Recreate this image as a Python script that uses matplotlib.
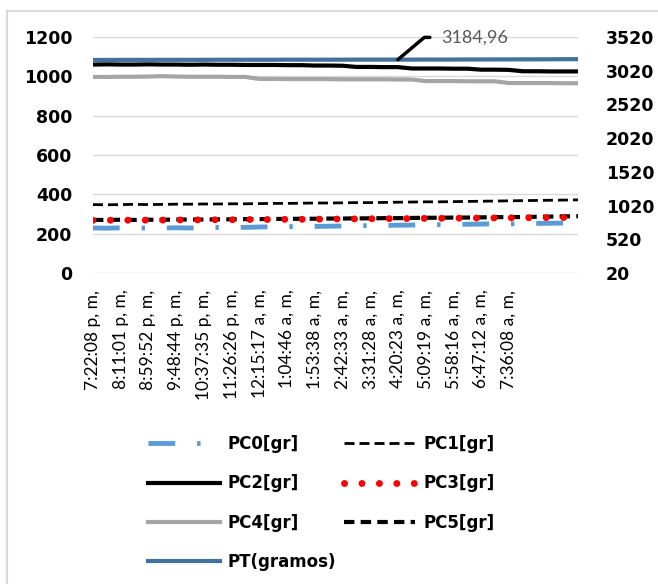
import matplotlib.pyplot as plt
import matplotlib.patches as mpatches
import numpy as np

plt.rcParams['font.family'] = ['Lato', 'DejaVu Sans']

# time labels (one every 2 samples)
time_labels = ['7:22:08 p, m,', '8:11:01 p, m,', '8:59:52 p, m,', '9:48:44 p, m,',
               '10:37:35 p, m,', '11:26:26 p, m,', '12:15:17 a, m,', '1:04:46 a, m,',
               '1:53:38 a, m,', '2:42:33 a, m,', '3:31:28 a, m,', '4:20:23 a, m,',
               '5:09:19 a, m,', '5:58:16 a, m,', '6:47:12 a, m,', '7:36:08 a, m,']

pc0 = [229, 228, 230, 229, 228, 229, 230, 229, 231, 232, 233, 232, 234, 235, 236, 236,
       237, 238, 239, 240, 241, 242, 243, 244, 245, 246, 247, 248, 249, 250, 250, 251,
       252, 253, 254, 255]
pc1 = [348, 347, 348, 349, 348, 349, 350, 350, 351, 351, 352, 352, 353, 354, 354, 355,
       356, 356, 357, 358, 358, 359, 360, 361, 362, 362, 363, 364, 365, 366, 367, 368,
       369, 370, 371, 372]
pc2 = [1060, 1061, 1060, 1060, 1061, 1060, 1060, 1059, 1060, 1059, 1059, 1058, 1058, 1058, 1057, 1057,
       1055, 1055, 1054, 1048, 1048, 1047, 1047, 1040, 1040, 1040, 1039, 1039, 1034, 1034,
       1033, 1026, 1026, 1025, 1025, 1025]
pc3 = [268, 268, 269, 268, 269, 269, 270, 270, 270, 271, 271, 272, 272, 272, 273, 273,
       274, 274, 275, 275, 276, 276, 277, 277, 278, 278, 279, 279, 280, 280, 281, 281,
       281, 282, 282, 282]
pc4 = [997, 997, 998, 998, 999, 1001, 999, 998, 998, 998, 997, 997, 987, 987, 986, 986,
       986, 986, 985, 985, 985, 985, 984, 984, 976, 976, 976, 975, 975, 975, 966, 966,
       966, 966, 965, 965]
pc5 = [270, 270, 271, 270, 271, 271, 272, 272, 272, 273, 273, 274, 274, 275, 275, 276,
       276, 277, 277, 278, 278, 279, 279, 280, 281, 281, 282, 282, 283, 284, 284, 285,
       286, 287, 288, 289]
pt = [3180, 3180, 3181, 3181, 3181, 3182, 3182, 3182, 3182, 3183, 3183, 3183, 3183, 3183, 3184, 3184,
      3184, 3184, 3184, 3185, 3185, 3185, 3184.96, 3185, 3186, 3186, 3186, 3187, 3187, 3188,
      3188, 3189, 3189, 3190, 3191, 3192]

x = np.arange(len(pc0))
bold = dict(family='DejaVu Sans', weight='bold')

fig = plt.figure(figsize=(6.58, 5.84), dpi=100)
ax = fig.add_axes([0.1413, 0.5325, 0.7372, 0.4041])
ax2 = ax.twinx()

h0, = ax.plot(x, pc0, color='#5B9BD5', lw=3.5, ls=(0, (5.5, 4.5, 0.7, 4.5)), label='PC0[gr]')
h1, = ax.plot(x, pc1, color='black', lw=2, ls=(0, (3.6, 1.8)), label='PC1[gr]')
h2, = ax.plot(x, pc2, color='black', lw=3, label='PC2[gr]')
h4, = ax.plot(x, pc4, color='#A5A5A5', lw=3, label='PC4[gr]')
h5, = ax.plot(x, pc5, color='black', lw=3, ls=(0, (2.5, 1.5)), label='PC5[gr]')
h3, = ax.plot(x, pc3, color='#FF0000', lw=5, ls=(0, (0.01, 2.5)), dash_capstyle='round',
              label='PC3[gr]')
hp, = ax2.plot(x, pt, color='#41719C', lw=3, label='PT(gramos)')

ax.set_xlim(0, 35)
ax.set_ylim(0, 1200)
ax.set_yticks(np.arange(0, 1201, 200))
ax2.set_ylim(20, 3520)
ax2.set_yticks(np.arange(20, 3521, 500))

ax.set_xticks(x[:len(time_labels) * 2:2])
ax.set_xticklabels(time_labels, rotation=90, fontsize=12.5, color='black')
ax.tick_params(axis='x', length=0, pad=12)
ax.tick_params(axis='y', length=0, pad=15)
ax2.tick_params(axis='y', length=0, pad=20)
for lab in ax.get_yticklabels() + ax2.get_yticklabels():
    lab.set_fontproperties(dict(bold, size=12.5))

ax.grid(axis='y', color='#D9D9D9', lw=1)
for s in list(ax.spines.values()) + list(ax2.spines.values()):
    s.set_visible(False)

ax2.annotate('3184,96', xy=(22, 3184.96), xytext=(31, 16), textcoords='offset points',
             fontsize=13, color='#595959', va='center', ha='left',
             arrowprops=dict(arrowstyle='-', color='black', lw=2.5,
                             connectionstyle='angle,angleA=0,angleB=40,rad=0',
                             relpos=(0, 0.5), shrinkA=6, shrinkB=0))

fig.legend([h0, h2, h4, hp, h1, h3, h5],
           ['PC0[gr]', 'PC2[gr]', 'PC4[gr]', 'PT(gramos)', 'PC1[gr]', 'PC3[gr]', 'PC5[gr]'],
           ncol=2, loc='upper left', bbox_to_anchor=(0.2249, 0.2551), frameon=False,
           prop=dict(bold, size=12), handlelength=4.3, handletextpad=0.48,
           columnspacing=0.45, labelspacing=1.28, borderpad=0, borderaxespad=0)

# chart area border
fig.patches.append(mpatches.Rectangle((7 / 658, -0.1), 1.2, 1 - 11 / 584 + 0.1,
                                      transform=fig.transFigure, fill=False,
                                      edgecolor='#D9D9D9', lw=1.5))

fig.savefig('out.png', dpi=100)
